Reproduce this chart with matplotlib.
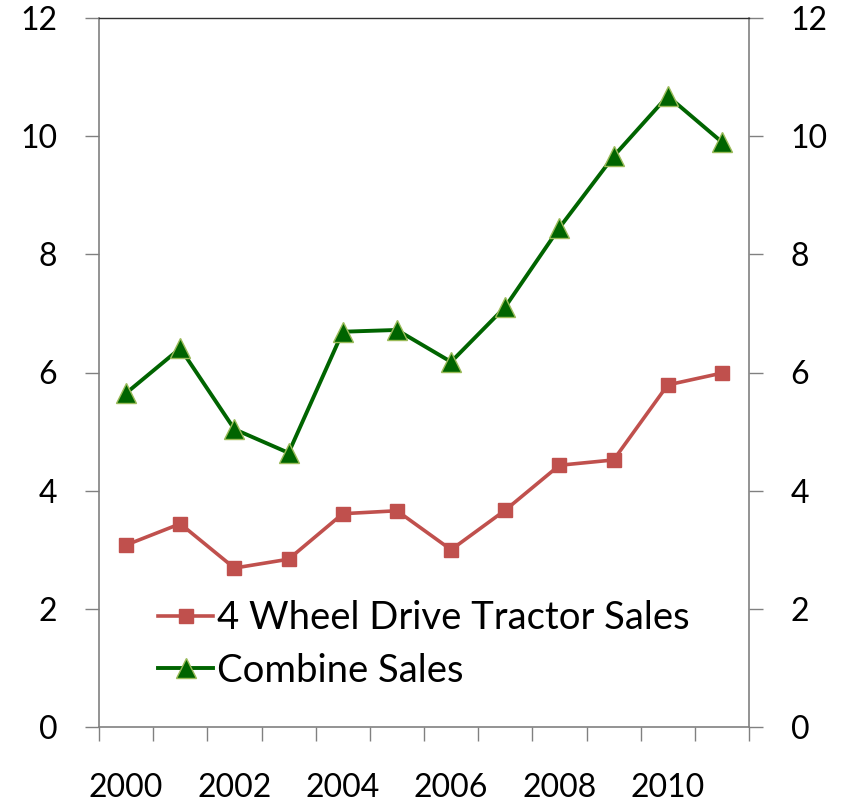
import matplotlib.pyplot as plt
from matplotlib.ticker import MultipleLocator, FixedLocator

plt.rcParams['font.family'] = ['Lato', 'DejaVu Sans']

years = list(range(2000, 2012))
tractor_sales = [3.08, 3.44, 2.69, 2.84, 3.61, 3.66, 3.00, 3.67, 4.43, 4.52, 5.79, 5.99]
combine_sales = [5.65, 6.41, 5.04, 4.64, 6.69, 6.72, 6.18, 7.11, 8.45, 9.66, 10.68, 9.90]
year_labels = [2000, 2002, 2004, 2006, 2008, 2010]

fig = plt.figure(figsize=(8.48, 8.02), dpi=100)
ax = fig.add_axes([99 / 848, 1 - 727 / 802, 650 / 848, 709 / 802])

ax.plot(years, tractor_sales, color="#c0504d", lw=2.6, marker="s", ms=10,
        mfc="#c0504d", mec="#c0504d", label="4 Wheel Drive Tractor Sales")
ax.plot(years, combine_sales, color="#006400", lw=2.8, marker="^", ms=14,
        mfc="#006400", mec="#9bbb59", mew=1.0, label="Combine Sales")

ax.set_xlim(1999.5, 2011.5)
ax.set_ylim(0, 12)

# x: labels every other year, tick marks on the category boundaries
ax.xaxis.set_major_locator(FixedLocator(year_labels))
ax.xaxis.set_minor_locator(FixedLocator([y + 0.5 for y in range(1999, 2012)]))
ax.tick_params(axis="x", which="major", length=0, pad=33, labelsize=23)
ax.tick_params(axis="x", which="minor", length=10, width=1, color="#808080")

ax.yaxis.set_major_locator(MultipleLocator(2))
ax.tick_params(axis="y", which="major", length=10, width=1, color="#808080",
               labelsize=23, pad=20, left=True, right=True,
               labelleft=True, labelright=True)

for side in ["left", "right", "bottom"]:
    ax.spines[side].set_color("#808080")
    ax.spines[side].set_linewidth(1.2)
ax.spines["top"].set_color("#303030")
ax.spines["top"].set_linewidth(1.0)

ax.legend(loc="upper left", bbox_to_anchor=(0.068, 0.20), frameon=False,
          fontsize=27.5, handlelength=1.42, handletextpad=0.12, labelspacing=0.42,
          borderaxespad=0)

fig.savefig("out.png", dpi=100)
